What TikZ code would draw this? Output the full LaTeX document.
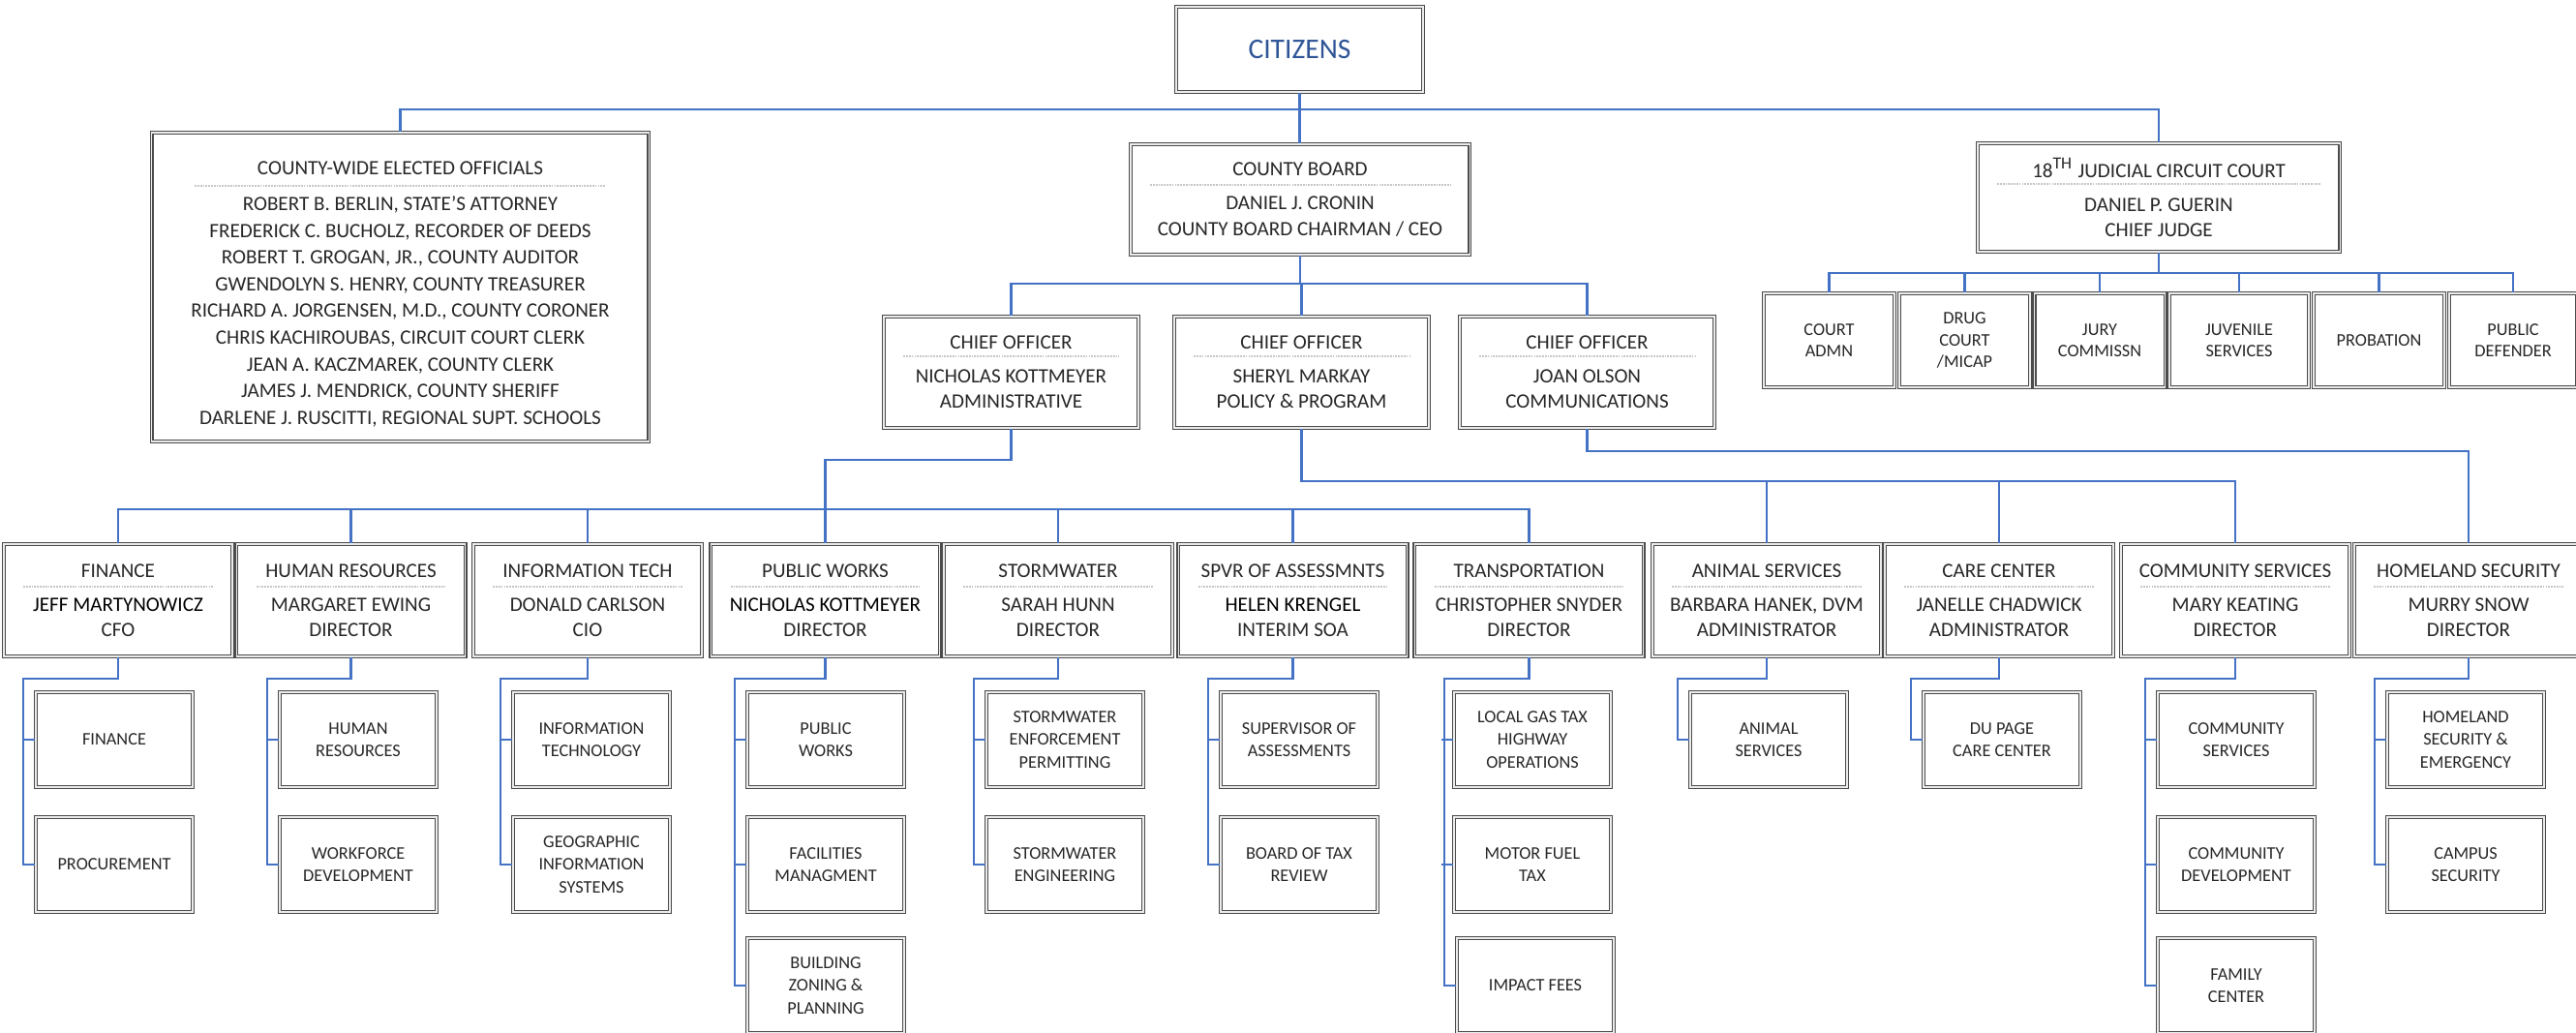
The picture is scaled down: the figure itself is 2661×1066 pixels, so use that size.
\documentclass[tikz,border=0pt]{standalone}
\usepackage{fontspec}
\setmainfont{Carlito}
\definecolor{linkblue}{RGB}{68,114,196}
\definecolor{citizenblue}{RGB}{47,85,151}
\definecolor{boxtext}{RGB}{40,40,40}

\begin{document}
\begin{tikzpicture}[x=0.01cm, y=-0.01cm]
    \tikzstyle{box} = [draw=black!70, double=black!8, line width=0.4pt, double distance=0.35pt, fill=white, inner sep=0pt, align=center, text=boxtext]
    \tikzstyle{headbox} = [box, minimum width=2.36cm, minimum height=1.16cm, font=\fontsize{6}{7.4}\selectfont]
    \tikzstyle{chiefbox} = [box, minimum width=2.63cm, minimum height=1.15cm, font=\fontsize{6}{7.4}\selectfont]
    \tikzstyle{courtbox} = [box, minimum width=1.35cm, minimum height=0.97cm, font=\fontsize{5.2}{6.4}\selectfont]
    \tikzstyle{unitbox} = [box, minimum width=1.62cm, minimum height=0.98cm, font=\fontsize{5.2}{6.6}\selectfont]
    \tikzstyle{link} = [draw=linkblue, line width=0.6pt]
    \tikzstyle{sepline} = [draw=black!22, dash pattern=on 0.5pt off 0.3pt, line width=0.6pt]

    \useasboundingbox (0,0) rectangle (2661,1066);
    \clip (0,0) rectangle (2661,1066);

    % Top box
    \node [box, minimum width=2.55cm, minimum height=0.88cm, text=citizenblue, font=\fontsize{8.4}{10}\selectfont] (Citizens) at (1342.5,51) {CITIZENS};

    % Second level
    \node [box, minimum width=5.13cm, minimum height=3.19cm, font=\fontsize{6}{7.85}\selectfont] (Elected) at (413.5,296.5) {\rule{0pt}{8.1pt}COUNTY-WIDE ELECTED OFFICIALS\\[2.65pt]
        ROBERT B. BERLIN, STATE’S ATTORNEY\\ FREDERICK C. BUCHOLZ, RECORDER OF DEEDS\\ ROBERT T. GROGAN, JR., COUNTY AUDITOR\\
        GWENDOLYN S. HENRY, COUNTY TREASURER\\ RICHARD A. JORGENSEN, M.D., COUNTY CORONER\\ CHRIS KACHIROUBAS, CIRCUIT COURT CLERK\\
        JEAN A. KACZMAREK, COUNTY CLERK\\ JAMES J. MENDRICK, COUNTY SHERIFF\\ DARLENE J. RUSCITTI, REGIONAL SUPT. SCHOOLS};
    \node [box, minimum width=3.5cm, minimum height=1.14cm, font=\fontsize{6}{7.4}\selectfont] (Board) at (1343,206) {COUNTY BOARD\\[2.6pt] DANIEL J. CRONIN\\ COUNTY BOARD CHAIRMAN / CEO};
    \node [box, minimum width=3.74cm, minimum height=1.12cm, font=\fontsize{6}{7.4}\selectfont] (Court) at (2230,204) {18\textsuperscript{TH} JUDICIAL CIRCUIT COURT\\[2.6pt] DANIEL P. GUERIN\\ CHIEF JUDGE};

    % Court divisions
    \node [courtbox] (CourtAdmn) at (1889.5,351.5) {COURT\\ADMN};
    \node [courtbox] (DrugCourt) at (2029.5,351.5) {DRUG\\COURT\\/MICAP};
    \node [courtbox] (JuryComm) at (2169,351.5) {JURY\\COMMISSN};
    \node [courtbox, minimum width=1.44cm] (Juvenile) at (2313,351.5) {JUVENILE\\SERVICES};
    \node [courtbox] (Probation) at (2457.5,351.5) {PROBATION};
    \node [courtbox, minimum width=1.32cm] (Defender) at (2596,351.5) {PUBLIC\\DEFENDER};

    % Chief officers
    \node [chiefbox] (ChiefAdmin) at (1044.5,384.5) {CHIEF OFFICER\\[2.6pt] NICHOLAS KOTTMEYER\\ ADMINISTRATIVE};
    \node [chiefbox] (ChiefPolicy) at (1344.5,384.5) {CHIEF OFFICER\\[2.6pt] SHERYL MARKAY\\ POLICY \& PROGRAM};
    \node [chiefbox] (ChiefComm) at (1639.5,384.5) {CHIEF OFFICER\\[2.6pt] JOAN OLSON\\ COMMUNICATIONS};

    % Departments
    \node [headbox] (Finance) at (122,620) {FINANCE\\[2.6pt] {\color{black}JEFF MARTYNOWICZ}\\ CFO};
    \node [headbox] (HumanRes) at (362.5,620) {HUMAN RESOURCES\\[2.6pt] MARGARET EWING\\ DIRECTOR};
    \node [headbox] (InfoTech) at (607,620) {INFORMATION TECH\\[2.6pt] DONALD CARLSON\\ CIO};
    \node [headbox] (PublicWorks) at (852.5,620) {PUBLIC WORKS\\[2.6pt] {\color{black}NICHOLAS KOTTMEYER}\\ DIRECTOR};
    \node [headbox] (Stormwater) at (1093,620) {STORMWATER\\[2.6pt] SARAH HUNN\\ DIRECTOR};
    \node [headbox] (Assessments) at (1335.5,620) {SPVR OF ASSESSMNTS\\[2.6pt] {\color{black}HELEN KRENGEL}\\ INTERIM SOA};
    \node [headbox] (Transport) at (1579.5,620) {TRANSPORTATION\\[2.6pt] CHRISTOPHER SNYDER\\ DIRECTOR};
    \node [headbox] (Animal) at (1825,620) {ANIMAL SERVICES\\[2.6pt] BARBARA HANEK, DVM\\ ADMINISTRATOR};
    \node [headbox] (CareCenter) at (2065,620) {CARE CENTER\\[2.6pt] JANELLE CHADWICK\\ ADMINISTRATOR};
    \node [headbox] (Community) at (2309,620) {COMMUNITY SERVICES\\[2.6pt] MARY KEATING\\ DIRECTOR};
    \node [headbox] (Homeland) at (2550,620) {HOMELAND SECURITY\\[2.6pt] MURRY SNOW\\ DIRECTOR};

    % Units
    \node [unitbox] (FinanceUnit) at (118,764) {FINANCE};
    \node [unitbox] (Procurement) at (118,893) {PROCUREMENT};
    \node [unitbox] (HumanResUnit) at (370,764) {HUMAN\\RESOURCES};
    \node [unitbox] (Workforce) at (370,893) {WORKFORCE\\DEVELOPMENT};
    \node [unitbox] (InfoTechUnit) at (611,764) {INFORMATION\\TECHNOLOGY};
    \node [unitbox] (Geographic) at (611,893) {GEOGRAPHIC\\INFORMATION\\SYSTEMS};
    \node [unitbox] (PublicWorksUnit) at (853,764) {PUBLIC\\WORKS};
    \node [unitbox] (Facilities) at (853,893) {FACILITIES\\MANAGMENT};
    \node [unitbox] (Building) at (853,1018) {BUILDING\\ZONING \&\\PLANNING};
    \node [unitbox] (Enforcement) at (1100,764) {STORMWATER\\ENFORCEMENT\\PERMITTING};
    \node [unitbox] (Engineering) at (1100,893) {STORMWATER\\ENGINEERING};
    \node [unitbox] (Supervisor) at (1342,764) {SUPERVISOR OF\\ASSESSMENTS};
    \node [unitbox] (TaxReview) at (1342,893) {BOARD OF TAX\\REVIEW};
    \node [unitbox] (GasTax) at (1583,764) {LOCAL GAS TAX\\HIGHWAY\\OPERATIONS};
    \node [unitbox] (MotorFuel) at (1583,893) {MOTOR FUEL\\TAX};
    \node [unitbox] (ImpactFees) at (1586,1018) {IMPACT FEES};
    \node [unitbox] (AnimalUnit) at (1827,764) {ANIMAL\\SERVICES};
    \node [unitbox] (DuPage) at (2068,764) {DU PAGE\\CARE CENTER};
    \node [unitbox] (CommServices) at (2310,764) {COMMUNITY\\SERVICES};
    \node [unitbox] (CommDevelop) at (2310,893) {COMMUNITY\\DEVELOPMENT};
    \node [unitbox] (FamilyCenter) at (2310,1018) {FAMILY\\CENTER};
    \node [unitbox] (HomelandUnit) at (2547,764) {HOMELAND\\SECURITY \&\\EMERGENCY};
    \node [unitbox] (Campus) at (2547,893) {CAMPUS\\SECURITY};

    % Dotted rules under the titles
    \draw [sepline] ([xshift=0.45cm,yshift=-0.56cm]Elected.north west) -- ([xshift=-0.45cm,yshift=-0.56cm]Elected.north east);
    \foreach \n in {Board,Court}
        \draw [sepline] ([xshift=0.21cm,yshift=-0.43cm]\n.north west) -- ([xshift=-0.21cm,yshift=-0.43cm]\n.north east);
    \foreach \n in {ChiefAdmin,ChiefPolicy,ChiefComm}
        \draw [sepline] ([xshift=0.21cm,yshift=-0.42cm]\n.north west) -- ([xshift=-0.21cm,yshift=-0.42cm]\n.north east);
    \foreach \n in {Finance,HumanRes,InfoTech,PublicWorks,Stormwater,Assessments,Transport,Animal,CareCenter,Community,Homeland}
        \draw [sepline] ([xshift=0.21cm,yshift=-0.45cm]\n.north west) -- ([xshift=-0.21cm,yshift=-0.45cm]\n.north east);

    % Bus heights
    \coordinate (TopBus) at (0,113);
    \coordinate (CourtBus) at (0,282);
    \coordinate (ChiefBus) at (0,293);
    \coordinate (CommBus) at (0,466);
    \coordinate (AdminJog) at (0,475);
    \coordinate (PolicyBus) at (0,497);
    \coordinate (DeptBus) at (0,526);
    \coordinate (Elbow) at (0,701);

    % Citizens to second level
    \draw [link] (Citizens.south) -- (Citizens.south |- Board.north);
    \draw [link] (Elected.north) -- (Elected.north |- TopBus) -- (Court.north |- TopBus) -- (Court.north);

    % Court
    \draw [link] (Court.south) -- (Court.south |- CourtBus);
    \draw [link] (CourtAdmn.north) -- (CourtAdmn.north |- CourtBus) -- (Defender.north |- CourtBus) -- (Defender.north);
    \foreach \n in {DrugCourt,JuryComm,Juvenile,Probation}
        \draw [link] (\n.north) -- (\n.north |- CourtBus);

    % Board to chief officers
    \draw [link] (Board.south) -- (Board.south |- ChiefBus);
    \draw [link] (ChiefAdmin.north) -- (ChiefAdmin.north |- ChiefBus) -- (ChiefComm.north |- ChiefBus) -- (ChiefComm.north);
    \draw [link] (ChiefPolicy.north) -- (ChiefPolicy.north |- ChiefBus);

    % Chief officers to departments
    \draw [link] (ChiefAdmin.south) -- (ChiefAdmin.south |- AdminJog) -- (PublicWorks.north |- AdminJog) -- (PublicWorks.north);
    \draw [link] (Finance.north) -- (Finance.north |- DeptBus) -- (Transport.north |- DeptBus) -- (Transport.north);
    \foreach \n in {HumanRes,InfoTech,Stormwater,Assessments}
        \draw [link] (\n.north) -- (\n.north |- DeptBus);
    \draw [link] (ChiefPolicy.south) -- (ChiefPolicy.south |- PolicyBus) -- (Community.north |- PolicyBus) -- (Community.north);
    \foreach \n in {Animal,CareCenter}
        \draw [link] (\n.north) -- (\n.north |- PolicyBus);
    \draw [link] (ChiefComm.south) -- (ChiefComm.south |- CommBus) -- (Homeland.north |- CommBus) -- (Homeland.north);

    % Departments to units
    \foreach \d/\u in {Finance/Procurement,HumanRes/Workforce,InfoTech/Geographic,PublicWorks/Building,Stormwater/Engineering,Assessments/TaxReview,Transport/ImpactFees,Animal/AnimalUnit,CareCenter/DuPage,Community/FamilyCenter,Homeland/Campus}
        \draw [link] (\d.south) -- (\d.south |- Elbow) -| ([xshift=-0.12cm]\u.west) -- (\u.west);
    \foreach \u in {FinanceUnit,HumanResUnit,InfoTechUnit,PublicWorksUnit,Facilities,Enforcement,Supervisor,GasTax,MotorFuel,CommServices,CommDevelop,HomelandUnit}
        \draw [link] ([xshift=-0.12cm]\u.west) -- (\u.west);
\end{tikzpicture}
\end{document}
